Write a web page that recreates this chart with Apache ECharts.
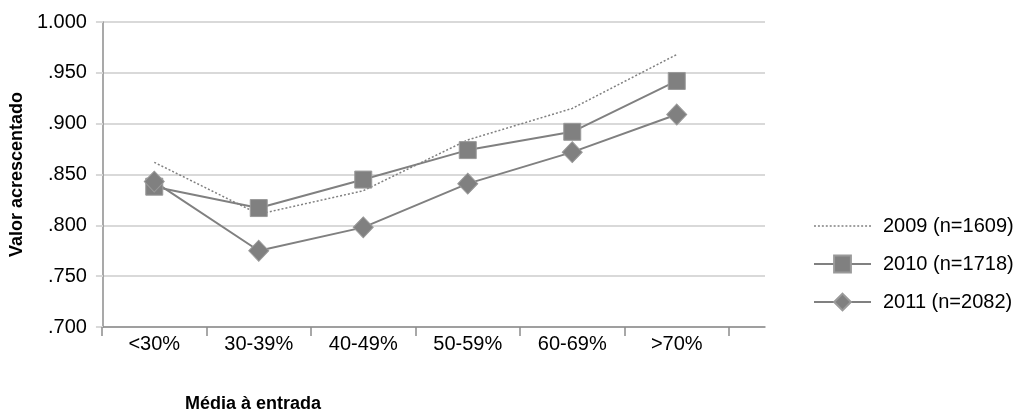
<!DOCTYPE html>
<html><head><meta charset="utf-8">
<script src="https://cdn.jsdelivr.net/npm/echarts@6/dist/echarts.min.js"></script>
<style>html,body{margin:0;padding:0;background:#fff}#c{width:1024px;height:410px}</style>
</head><body><div id="c"></div>
<script>
var categories = ['<30%', '30-39%', '40-49%', '50-59%', '60-69%', '>70%'];
var s2009 = [0.862, 0.811, 0.834, 0.884, 0.915, 0.968];
var s2010 = [0.838, 0.817, 0.845, 0.874, 0.892, 0.942];
var s2011 = [0.843, 0.775, 0.798, 0.841, 0.872, 0.909];
var seriesNames = ['2009 (n=1609)', '2010 (n=1718)', '2011 (n=2082)'];
var yTicks = { min: 0.7, max: 1.0, interval: 0.05 };

var FONT = '"Liberation Sans", Arial, sans-serif';
var GREY = '#808080';

// dotted legend icon path (style only)
var dotPath = 'path://';
for (var k = 0; k < 15; k++) { dotPath += 'M' + (k * 4) + ',0h2v1.4h-2z'; }

var chart = echarts.init(document.getElementById('c'));
chart.setOption({
  animation: false,
  textStyle: { fontFamily: FONT },
  grid: [
    { left: 102, top: 22, width: 627, height: 305 },
    { left: 102, top: 22, width: 663, height: 305 }
  ],
  xAxis: [
    { type: 'category', gridIndex: 0, data: categories, boundaryGap: true,
      axisLine: { show: false },
      axisTick: { show: true, length: 9, inside: false, lineStyle: { color: '#8c8c8c', width: 1.5 } },
      axisLabel: { color: '#000', fontSize: 20, margin: 7, fontFamily: FONT } },
    { type: 'value', gridIndex: 1, min: 0, max: 1, show: true,
      axisLine: { show: true, lineStyle: { color: '#8c8c8c', width: 1.5 } },
      axisTick: { show: false }, axisLabel: { show: false }, splitLine: { show: false } }
  ],
  yAxis: [
    { type: 'value', gridIndex: 0, min: yTicks.min, max: yTicks.max, interval: yTicks.interval, show: false },
    { type: 'value', gridIndex: 1, min: yTicks.min, max: yTicks.max, interval: yTicks.interval,
      name: 'Valor acrescentado', nameLocation: 'middle', nameGap: 76,
      nameTextStyle: { fontWeight: 'bold', fontSize: 18, color: '#000', fontFamily: FONT },
      axisLine: { show: true, lineStyle: { color: '#8c8c8c', width: 1.5 } },
      axisTick: { show: true, length: 7, lineStyle: { color: '#d9d9d9', width: 2 } },
      splitLine: { show: true, lineStyle: { color: '#d9d9d9', width: 2 } },
      axisLabel: { color: '#000', fontSize: 20, margin: 16, fontFamily: FONT,
        formatter: function (v) { var s = v.toFixed(3); return s.charAt(0) === '0' ? s.slice(1) : s; } } }
  ],
  legend: {
    orient: 'vertical', left: 808, top: 211, itemWidth: 57, itemHeight: 21, itemGap: 18,
    textStyle: { fontSize: 20, color: '#000', fontFamily: FONT, padding: [0, 0, 0, 7] },
    data: [
      { name: seriesNames[0], icon: dotPath, itemStyle: { color: GREY } },
      { name: seriesNames[1] },
      { name: seriesNames[2] }
    ]
  },
  title: {
    text: 'Média à entrada', left: 185, top: 395,
    textStyle: { fontWeight: 'bold', fontSize: 18, color: '#000', fontFamily: FONT }, padding: 0
  },
  series: [
    { name: seriesNames[0], type: 'line', xAxisIndex: 0, yAxisIndex: 0, data: s2009,
      showSymbol: false, symbol: 'none', lineStyle: { color: GREY, width: 1.5, type: [2, 2] }, itemStyle: { color: GREY } },
    { name: seriesNames[1], type: 'line', xAxisIndex: 0, yAxisIndex: 0, data: s2010,
      symbol: 'rect', symbolSize: 17, lineStyle: { color: GREY, width: 2 },
      itemStyle: { color: GREY, borderColor: '#9a9a9a', borderWidth: 1 } },
    { name: seriesNames[2], type: 'line', xAxisIndex: 0, yAxisIndex: 0, data: s2011,
      symbol: 'diamond', symbolSize: [20, 21], lineStyle: { color: GREY, width: 2 },
      itemStyle: { color: GREY, borderColor: '#9a9a9a', borderWidth: 1 } }
  ]
});
</script></body></html>
